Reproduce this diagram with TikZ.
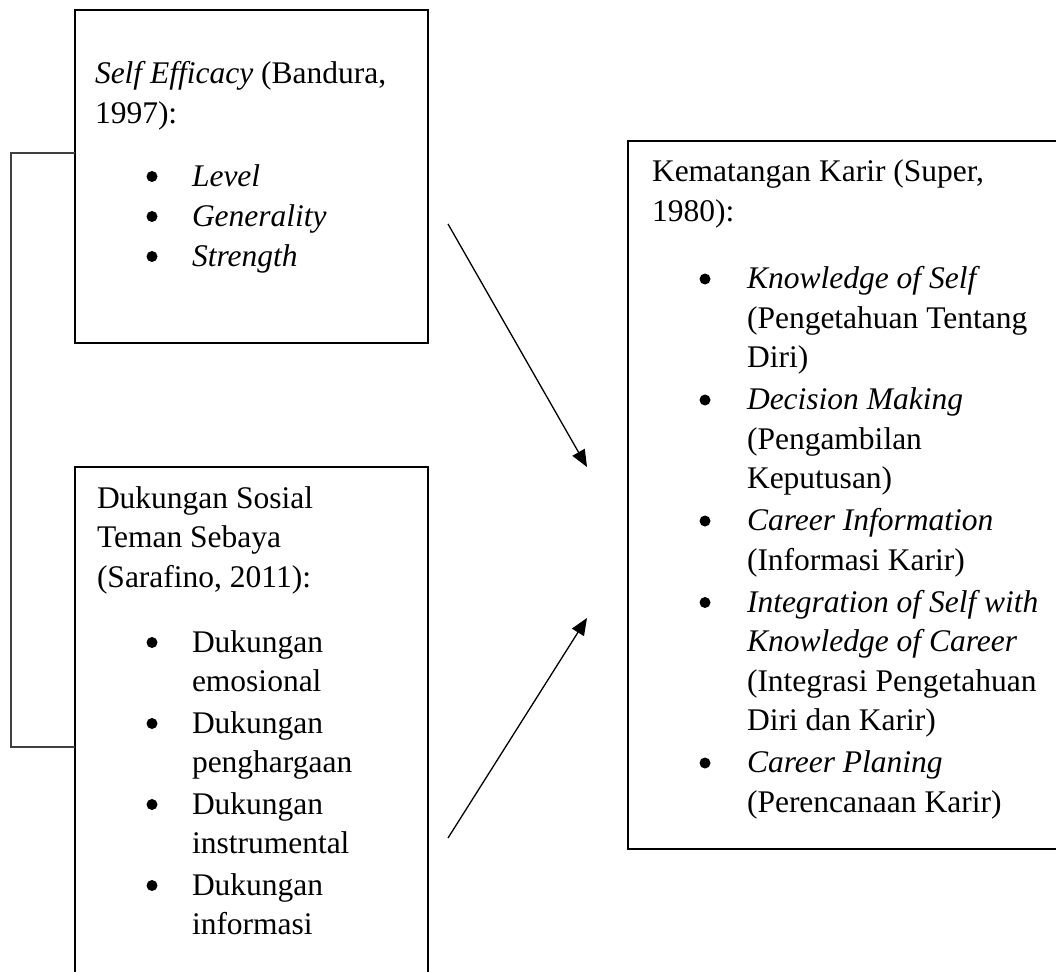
\documentclass[tikz,border=0pt]{standalone}
\usepackage{fontspec}
\setmainfont{Liberation Serif}
\usetikzlibrary{arrows.meta}
\begin{document}
\begin{tikzpicture}[x=1pt,y=-1pt,
  every node/.style={inner sep=0pt, outer sep=0pt},
  txt/.style={font=\fontsize{31.5}{39.5}\selectfont, anchor=base west},
  dot/.style={circle, fill=black, minimum size=11pt, yshift=9.5pt},
  frame/.style={draw=black, line width=2.4pt, anchor=north west},
  link/.style={draw=black!75, line width=1.2pt},
  arr/.style={draw=black, line width=1.3pt, -{Triangle[length=17pt,width=14pt]}}
]
\useasboundingbox (0,0) rectangle (1056,971);
\clip (0,0) rectangle (1056,971);

% boxes
\node[frame, minimum width=353pt, minimum height=333pt] (b1) at (75,10) {};
\node[frame, minimum width=353pt, minimum height=560pt] (b2) at (75,467) {};
\node[frame, minimum width=460pt, minimum height=708pt] (b3) at (628,141) {};

% bracket joining the two left boxes
\coordinate (k1) at (11,153);
\coordinate (k2) at (11,747);
\draw[link] (b1.west |- k1) -- (k1) -- (k2) -- (b2.west |- k2);

% arrows
\coordinate (a1s) at (448,224);
\coordinate (a1e) at (587,467);
\coordinate (a2s) at (448,838);
\coordinate (a2e) at (587,618);
\draw[arr] (a1s) -- (a1e);
\draw[arr] (a2s) -- (a2e);

% box 1 text
\node[txt] (s1) at (95,84) {\textit{Self Efficacy} (Bandura,};
\node[txt] (s2) at (95,123) {1997):};
\node[dot] (sb1) at (152,186) {};
\node[dot] (sb2) at (152,226) {};
\node[dot] (sb3) at (152,266) {};
\node[txt] (s3) at (192,186) {\textit{Level}};
\node[txt] (s4) at (192,226) {\textit{Generality}};
\node[txt] (s5) at (192,266) {\textit{Strength}};

% box 2 text
\node[txt] (d1) at (97,508) {Dukungan Sosial};
\node[txt] (d2) at (97,547) {Teman Sebaya};
\node[txt] (d3) at (97,587) {(Sarafino, 2011):};
\node[dot] (db1) at (152,652) {};
\node[dot] (db2) at (152,733) {};
\node[dot] (db3) at (152,814) {};
\node[dot] (db4) at (152,895) {};
\node[txt] (d4) at (192,652) {Dukungan};
\node[txt] (d5) at (192,691) {emosional};
\node[txt] (d6) at (192,733) {Dukungan};
\node[txt] (d7) at (192,772) {penghargaan};
\node[txt] (d8) at (192,814) {Dukungan};
\node[txt] (d9) at (192,853) {instrumental};
\node[txt] (d10) at (192,895) {Dukungan};
\node[txt] (d11) at (192,934) {informasi};

% box 3 text
\node[txt] (k01) at (652,181) {Kematangan Karir (Super,};
\node[txt] (k02) at (652,221) {1980):};
\node[dot] (kb1) at (705,288.5) {};
\node[dot] (kb2) at (705,409.5) {};
\node[dot] (kb3) at (705,530.5) {};
\node[dot] (kb4) at (705,612) {};
\node[dot] (kb5) at (705,772.5) {};
\node[txt] (k03) at (747,288.5) {\textit{Knowledge of Self}};
\node[txt] (k04) at (747,328) {(Pengetahuan Tentang};
\node[txt] (k05) at (747,367.5) {Diri)};
\node[txt] (k06) at (747,409.5) {\textit{Decision Making}};
\node[txt] (k07) at (747,449) {(Pengambilan};
\node[txt] (k08) at (747,488.5) {Keputusan)};
\node[txt] (k09) at (747,530.5) {\textit{Career Information}};
\node[txt] (k10) at (747,570) {(Informasi Karir)};
\node[txt] (k11) at (747,612) {\textit{Integration of Self with}};
\node[txt] (k12) at (747,651.5) {\textit{Knowledge of Career}};
\node[txt] (k13) at (747,691) {(Integrasi Pengetahuan};
\node[txt] (k14) at (747,730.5) {Diri dan Karir)};
\node[txt] (k15) at (747,772.5) {\textit{Career Planing}};
\node[txt] (k16) at (747,812) {(Perencanaan Karir)};
\end{tikzpicture}
\end{document}
